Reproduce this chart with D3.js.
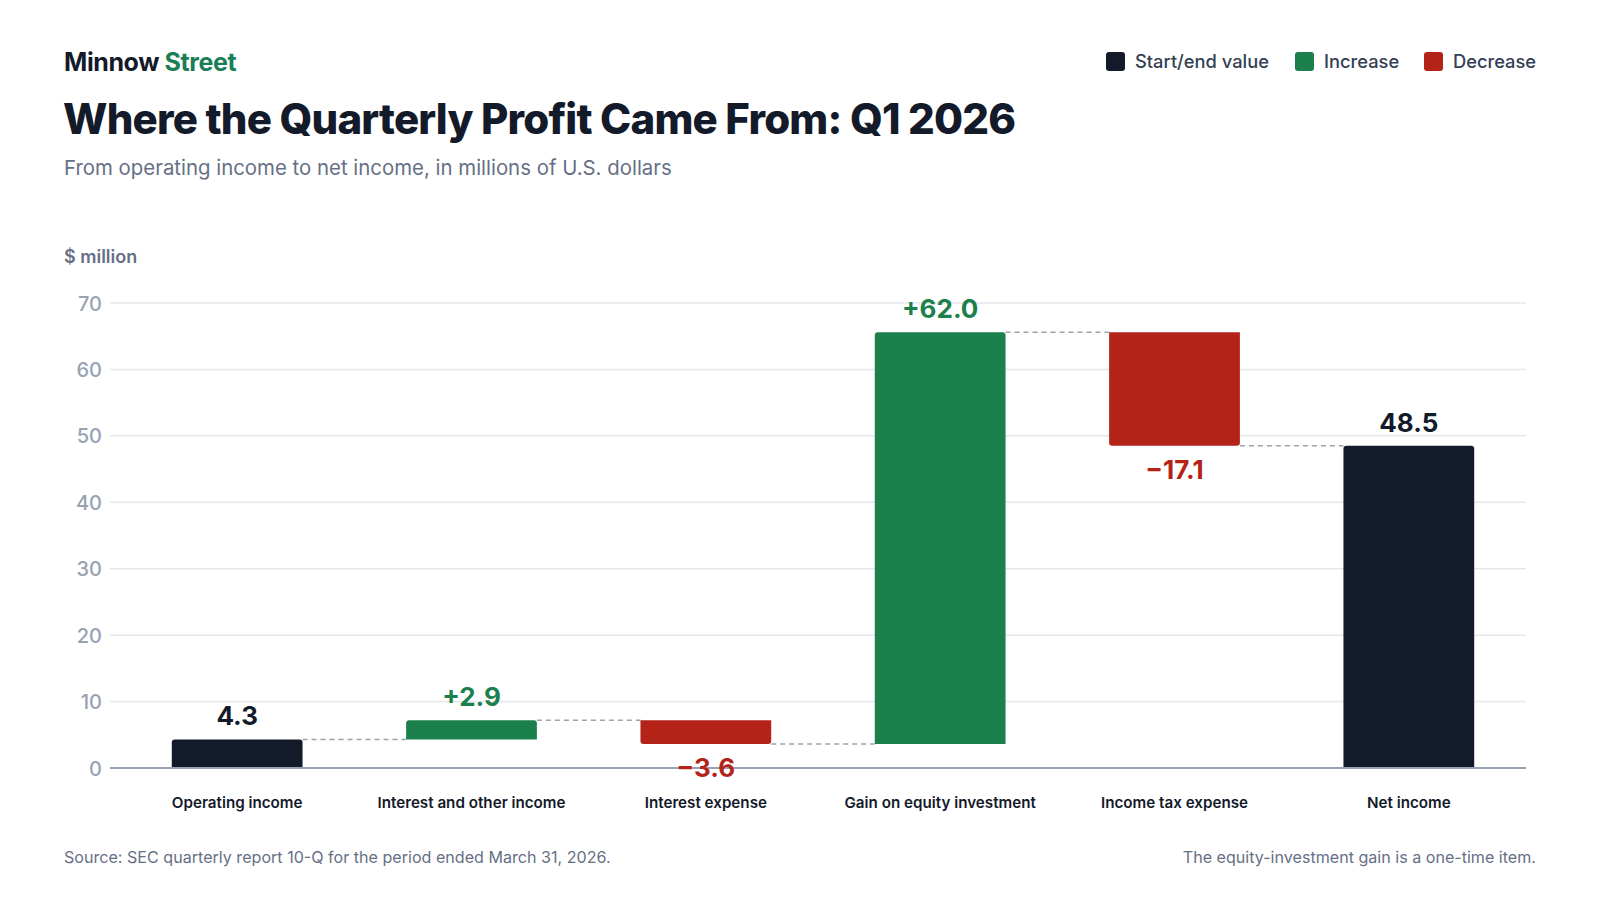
<!DOCTYPE html>
<html>
<head>
<meta charset="utf-8">
<script src="https://cdn.jsdelivr.net/npm/d3@7/dist/d3.min.js"></script>
<style>
  html, body { margin: 0; padding: 0; background: #ffffff; }
  svg { display: block; font-family: Inter, "Noto Sans", sans-serif; }
</style>
</head>
<body>
<svg id="chart" width="1600" height="900"></svg>
<script>
// ---- data ----
const categories = ["Operating income", "Interest and other income", "Interest expense", "Gain on equity investment", "Income tax expense", "Net income"];
const changes = [4.3, 2.9, -3.6, 62.0, -17.1, 48.5];
const kinds = ["total", "increase", "decrease", "increase", "decrease", "total"];
const valueLabels = ["4.3", "+2.9", "\u22123.6", "+62.0", "\u221217.1", "48.5"];
const yTicks = [0, 10, 20, 30, 40, 50, 60, 70];
const legendItems = ["Start/end value", "Increase", "Decrease"];
const legendKinds = ["total", "increase", "decrease"];

const colors = { total: "#131a2a", increase: "#1b804c", decrease: "#b42318" };

// build waterfall table
let running = 0;
const rows = categories.map((c, i) => {
  let y0, y1;
  if (kinds[i] === "total") { y0 = 0; y1 = changes[i]; running = changes[i]; }
  else { y0 = running; y1 = running + changes[i]; running = y1; }
  return { cat: c, kind: kinds[i], y0, y1, label: valueLabels[i] };
});

const svg = d3.select("#chart");

const x = d3.scaleBand().domain(categories).range([120, 1526]).paddingInner(0.442).paddingOuter(0.221);
const y = d3.scaleLinear().domain([0, 70]).range([768, 303]);

// header
svg.append("text").attr("x", 64).attr("y", 71).attr("font-size", 25).attr("font-weight", 700)
  .attr("letter-spacing", -0.4)
  .call(t => { t.append("tspan").attr("fill", "#131a2a").text("Minnow "); t.append("tspan").attr("fill", "#1a7f55").text("Street"); });
svg.append("text").attr("x", 63).attr("y", 134).attr("font-size", 42).attr("font-weight", 800)
  .attr("letter-spacing", -0.8).attr("fill", "#131a2a").text("Where the Quarterly Profit Came From: Q1 2026");
svg.append("text").attr("x", 64).attr("y", 175).attr("font-size", 20.4).attr("fill", "#667085")
  .text("From operating income to net income, in millions of U.S. dollars");

// legend
const legendX = [1106, 1295, 1424];
const lg = svg.append("g");
legendItems.forEach((name, i) => {
  lg.append("rect").attr("x", legendX[i]).attr("y", 52).attr("width", 19).attr("height", 19).attr("rx", 3)
    .attr("fill", colors[legendKinds[i]]);
  lg.append("text").attr("x", legendX[i] + 29).attr("y", 68).attr("font-size", 18.3).attr("font-weight", 500)
    .attr("fill", "#344054").text(name);
});

// axis title
svg.append("text").attr("x", 64).attr("y", 263).attr("font-size", 18).attr("font-weight", 600)
  .attr("fill", "#667085").text("$ million");

// gridlines
svg.append("g").selectAll("line").data(yTicks.filter(d => d > 0)).join("line")
  .attr("x1", 110).attr("x2", 1526).attr("y1", d => y(d)).attr("y2", d => y(d))
  .attr("stroke", "#e5e7eb").attr("stroke-width", 1.5);

// y axis
const yAxis = d3.axisLeft(y).tickValues(yTicks).tickSize(0).tickPadding(0);
const yg = svg.append("g").attr("transform", "translate(102,0)").call(yAxis);
yg.select(".domain").remove();
yg.selectAll("text").attr("font-size", 20).attr("font-weight", 500).attr("fill", "#98a2b3")
  .attr("font-family", "Inter, sans-serif").attr("dy", "0.35em");

// connectors
const conn = rows.slice(0, -1).map((r, i) => ({ from: r, to: rows[i + 1], level: r.y1 }));
svg.append("g").selectAll("line").data(conn).join("line")
  .attr("x1", d => x(d.from.cat) + x.bandwidth()).attr("x2", d => x(d.to.cat))
  .attr("y1", d => y(d.level)).attr("y2", d => y(d.level))
  .attr("stroke", "#9ca3af").attr("stroke-width", 1.5).attr("stroke-dasharray", "5,4");

// bars with rounded end
function barPath(d) {
  const x0 = x(d.cat), w = x.bandwidth(), r = 3;
  const top = y(Math.max(d.y0, d.y1)), bot = y(Math.min(d.y0, d.y1));
  const roundTop = d.kind !== "decrease";
  if (roundTop) {
    return `M${x0},${bot} L${x0},${top + r} Q${x0},${top} ${x0 + r},${top} L${x0 + w - r},${top} Q${x0 + w},${top} ${x0 + w},${top + r} L${x0 + w},${bot} Z`;
  }
  return `M${x0},${top} L${x0 + w},${top} L${x0 + w},${bot - r} Q${x0 + w},${bot} ${x0 + w - r},${bot} L${x0 + r},${bot} Q${x0},${bot} ${x0},${bot - r} Z`;
}
svg.append("g").selectAll("path").data(rows).join("path")
  .attr("d", barPath).attr("fill", d => colors[d.kind]);

// zero axis line
svg.append("line").attr("x1", 110).attr("x2", 1526).attr("y1", y(0)).attr("y2", y(0))
  .attr("stroke", "#98a2b3").attr("stroke-width", 2);

// value labels
svg.append("g").selectAll("text").data(rows).join("text")
  .attr("x", d => x(d.cat) + x.bandwidth() / 2)
  .attr("y", d => d.kind === "decrease" ? y(Math.min(d.y0, d.y1)) + 33 : y(Math.max(d.y0, d.y1)) - 14)
  .attr("text-anchor", "middle").attr("font-size", 26).attr("font-weight", 700)
  .attr("fill", d => colors[d.kind]).text(d => d.label);

// x labels
const xAxis = d3.axisBottom(x).tickSize(0).tickPadding(0);
const xg = svg.append("g").attr("transform", "translate(0,808)").call(xAxis);
xg.select(".domain").remove();
xg.selectAll("text").attr("font-size", 15.2).attr("font-weight", 600).attr("fill", "#131a2a")
  .attr("font-family", "Inter, sans-serif").attr("dy", 0);

// footer
svg.append("text").attr("x", 64).attr("y", 863).attr("font-size", 16.1).attr("fill", "#667085")
  .text("Source: SEC quarterly report 10-Q for the period ended March 31, 2026.");
svg.append("text").attr("x", 1536).attr("y", 863).attr("font-size", 16.1).attr("fill", "#667085")
  .attr("text-anchor", "end").text("The equity-investment gain is a one-time item.");
</script>
</body>
</html>
